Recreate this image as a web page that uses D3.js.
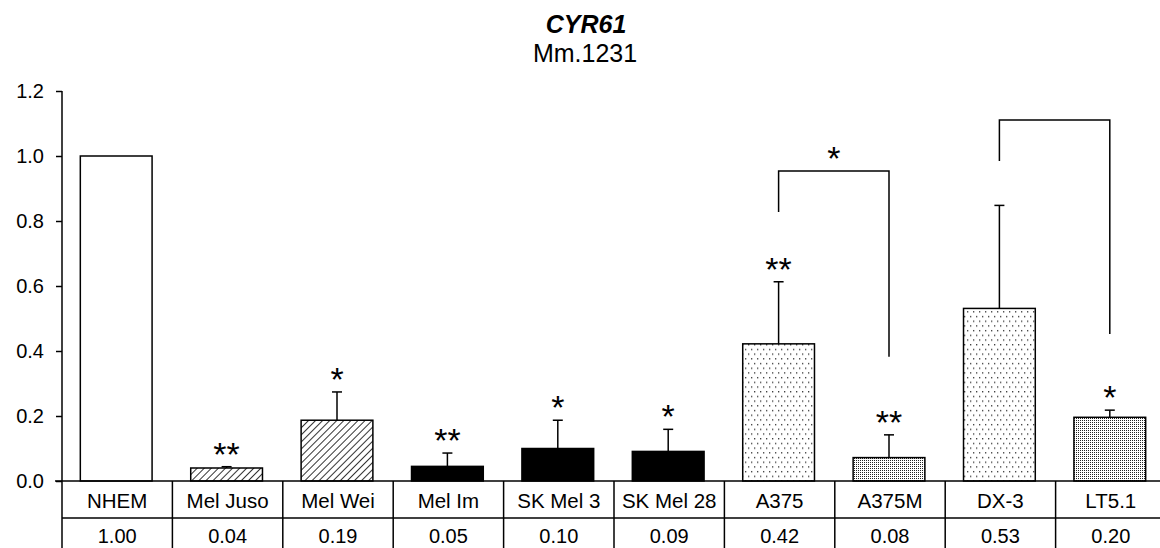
<!DOCTYPE html>
<html>
<head>
<meta charset="utf-8">
<script src="https://cdn.jsdelivr.net/npm/d3@7/dist/d3.min.js"></script>
<style>
  body { margin: 0; background: #fff; }
  svg { display: block; }
  text { font-family: "Liberation Sans", Arial, sans-serif; fill: #000; }
</style>
</head>
<body>
<svg id="chart" width="1160" height="548"></svg>
<script>
var categories = ["NHEM", "Mel Juso", "Mel Wei", "Mel Im", "SK Mel 3", "SK Mel 28", "A375", "A375M", "DX-3", "LT5.1"];
var means = [1.00, 0.04, 0.187, 0.045, 0.10, 0.091, 0.422, 0.072, 0.531, 0.196];
var errors = [0, 0.004, 0.087, 0.041, 0.087, 0.068, 0.191, 0.070, 0.317, 0.022];
var tableValues = ["1.00", "0.04", "0.19", "0.05", "0.10", "0.09", "0.42", "0.08", "0.53", "0.20"];
var stars = ["", "**", "*", "**", "*", "*", "**", "**", "", "*"];
var yTicks = [0, 0.2, 0.4, 0.6, 0.8, 1.0, 1.2];
// comparison brackets: leg bottoms and top bar in data units
var brackets = [
  {from: "A375", to: "A375M", left: 0.828, top: 0.954, right: 0.382, label: "*"},
  {from: "DX-3", to: "LT5.1", left: 0.985, top: 1.111, right: 0.452, label: ""}
];

var svg = d3.select("#chart");
var axisX = 62,
    rowTop = 481,
    rowMid = 518,
    rowBottom = 560;

var x = d3.scaleBand()
  .domain(categories)
  .range([axisX, 1166])
  .paddingInner(0).paddingOuter(0);

var y = d3.scaleLinear()
  .domain([0, 1.2])
  .range([rowTop, 91]);

var barW = x.bandwidth() * 0.65;
function cx(c) { return x(c) + x.bandwidth() / 2 - 1; }

// fill patterns
var defs = svg.append("defs");

var hatch = defs.append("pattern")
  .attr("id", "hatch")
  .attr("patternUnits", "userSpaceOnUse")
  .attr("width", 5).attr("height", 5)
  .attr("patternTransform", "rotate(45)");
hatch.append("rect").attr("width", 5).attr("height", 5).attr("fill", "#fff");
hatch.append("line")
  .attr("x1", 0).attr("y1", 0).attr("x2", 0).attr("y2", 5)
  .attr("stroke", "#000").attr("stroke-width", 1.6);

var sparse = defs.append("pattern")
  .attr("id", "sparse")
  .attr("patternUnits", "userSpaceOnUse")
  .attr("width", 6).attr("height", 9.4);
sparse.append("rect").attr("width", 6).attr("height", 9.4).attr("fill", "#fff");
sparse.append("rect").attr("x", 1).attr("y", 1).attr("width", 1.3).attr("height", 1.3).attr("fill", "#333");
sparse.append("rect").attr("x", 4).attr("y", 5.7).attr("width", 1.3).attr("height", 1.3).attr("fill", "#333");

var dense = defs.append("pattern")
  .attr("id", "dense")
  .attr("patternUnits", "userSpaceOnUse")
  .attr("width", 2).attr("height", 2);
dense.append("rect").attr("width", 2).attr("height", 2).attr("fill", "#fff");
dense.append("rect").attr("x", 0).attr("y", 0).attr("width", 1).attr("height", 1).attr("fill", "#222");

var fill = d3.scaleOrdinal()
  .domain(categories)
  .range(["#fff", "url(#hatch)", "url(#hatch)", "#000", "#000", "#000",
          "url(#sparse)", "url(#dense)", "url(#sparse)", "url(#dense)"]);

var rows = categories.map(function(c, i) {
  return {cat: c, mean: means[i], err: errors[i], val: tableValues[i], star: stars[i]};
});

// title
svg.append("text")
  .attr("x", 586).attr("y", 33)
  .attr("text-anchor", "middle")
  .style("font-size", "25px")
  .style("font-weight", "bold")
  .style("font-style", "italic")
  .text("CYR61");
svg.append("text")
  .attr("x", 585).attr("y", 62)
  .attr("text-anchor", "middle")
  .style("font-size", "25px")
  .text("Mm.1231");

// y axis
var yAxis = d3.axisLeft(y)
  .tickValues(yTicks)
  .tickFormat(d3.format(".1f"))
  .tickSize(6)
  .tickPadding(12);

var yg = svg.append("g")
  .attr("transform", "translate(" + axisX + ",0)")
  .call(yAxis);
yg.select(".domain").remove();
yg.selectAll(".tick line").attr("stroke", "#000").attr("stroke-width", 1.5);
yg.selectAll(".tick text")
  .style("font-size", "20px")
  .style("font-family", "'Liberation Sans', Arial, sans-serif")
  .attr("fill", "#000");

svg.append("line")
  .attr("x1", axisX).attr("x2", axisX)
  .attr("y1", y(1.2)).attr("y2", rowBottom)
  .attr("stroke", "#000").attr("stroke-width", 1.5);

// bars
svg.selectAll(".bar")
  .data(rows)
  .enter().append("rect")
  .attr("class", "bar")
  .attr("x", function(d) { return cx(d.cat) - barW / 2; })
  .attr("y", function(d) { return y(d.mean); })
  .attr("width", barW)
  .attr("height", function(d) { return y(0) - y(d.mean); })
  .attr("fill", function(d) { return fill(d.cat); })
  .attr("stroke", "#000")
  .attr("stroke-width", 1.5);

// error bars
var eb = svg.selectAll(".err")
  .data(rows.filter(function(d) { return d.err > 0; }))
  .enter().append("g")
  .attr("class", "err")
  .attr("stroke", "#000")
  .attr("stroke-width", 1.5);
eb.append("line")
  .attr("x1", function(d) { return cx(d.cat); })
  .attr("x2", function(d) { return cx(d.cat); })
  .attr("y1", function(d) { return y(d.mean); })
  .attr("y2", function(d) { return y(d.mean + d.err); });
eb.append("line")
  .attr("x1", function(d) { return cx(d.cat) - 5; })
  .attr("x2", function(d) { return cx(d.cat) + 5; })
  .attr("y1", function(d) { return y(d.mean + d.err); })
  .attr("y2", function(d) { return y(d.mean + d.err); });

// significance stars
svg.selectAll(".star")
  .data(rows.filter(function(d) { return d.star; }))
  .enter().append("text")
  .attr("class", "star")
  .attr("x", function(d) { return cx(d.cat); })
  .attr("y", function(d) { return y(d.mean + d.err) - 1; })
  .attr("text-anchor", "middle")
  .style("font-size", "34px")
  .text(function(d) { return d.star; });

// brackets
var bg = svg.selectAll(".bracket")
  .data(brackets)
  .enter().append("g")
  .attr("class", "bracket");
bg.append("path")
  .attr("d", function(b) {
    return "M" + cx(b.from) + "," + y(b.left) +
      "V" + y(b.top) + "H" + cx(b.to) + "V" + y(b.right);
  })
  .attr("fill", "none")
  .attr("stroke", "#000")
  .attr("stroke-width", 1.5);
bg.append("text")
  .attr("x", function(b) { return (cx(b.from) + cx(b.to)) / 2; })
  .attr("y", function(b) { return y(b.top) - 1; })
  .attr("text-anchor", "middle")
  .style("font-size", "34px")
  .text(function(b) { return b.label; });

// data table under the axis
var tbl = svg.append("g").attr("stroke", "#000").attr("stroke-width", 1.5);
tbl.append("line").attr("x1", 55).attr("x2", 1160).attr("y1", rowTop).attr("y2", rowTop);
tbl.append("line").attr("x1", axisX).attr("x2", 1160).attr("y1", rowMid).attr("y2", rowMid);
tbl.selectAll(".sep")
  .data(categories)
  .enter().append("line")
  .attr("x1", function(c) { return x(c) + x.bandwidth(); })
  .attr("x2", function(c) { return x(c) + x.bandwidth(); })
  .attr("y1", rowTop).attr("y2", rowBottom);

svg.selectAll(".catlabel")
  .data(rows)
  .enter().append("text")
  .attr("x", function(d) { return x(d.cat) + x.bandwidth() / 2; })
  .attr("y", 508)
  .attr("text-anchor", "middle")
  .style("font-size", "20.5px")
  .text(function(d) { return d.cat; });

svg.selectAll(".vallabel")
  .data(rows)
  .enter().append("text")
  .attr("x", function(d) { return x(d.cat) + x.bandwidth() / 2; })
  .attr("y", 543)
  .attr("text-anchor", "middle")
  .style("font-size", "20px")
  .text(function(d) { return d.val; });
</script>
</body>
</html>
